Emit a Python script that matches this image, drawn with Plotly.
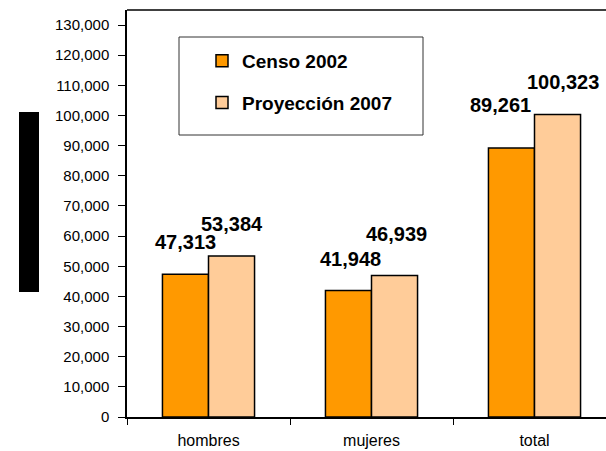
import plotly.graph_objects as go

categories = ["hombres", "mujeres", "total"]
censo_2002 = [47313, 41948, 89261]
proyeccion_2007 = [53384, 46939, 100323]
series_names = ["Censo 2002", "Proyección 2007"]
y_tick_values = list(range(0, 130001, 10000))

# style / layout tuning (pixel offsets of the value labels)
censo_label_shift = [(0, 32), (2, 32), (-11, 43)]
proy_label_shift = [(0, 32), (2, 41), (5, 33)]

FONT = "Liberation Sans, Arial, sans-serif"
ORANGE = "#FF9900"
PEACH = "#FFCC99"

fig = go.Figure()
fig.add_trace(go.Bar(x=categories, y=censo_2002, name=series_names[0],
                     marker=dict(color=ORANGE, line=dict(color="black", width=1.5)),
                     legendgroup="a"))
fig.add_trace(go.Bar(x=categories, y=proyeccion_2007, name=series_names[1],
                     marker=dict(color=PEACH, line=dict(color="black", width=1.5)),
                     legendgroup="b"))

annotations = []
bar_half = 23
for cat, v, (dx, dy) in zip(categories, censo_2002, censo_label_shift):
    annotations.append(dict(x=cat, y=v, text=f"{v:,}", showarrow=False,
                            xshift=-bar_half + dx, yshift=dy, yanchor="middle",
                            font=dict(family=FONT, size=20, color="black", weight="bold")))
for cat, v, (dx, dy) in zip(categories, proyeccion_2007, proy_label_shift):
    annotations.append(dict(x=cat, y=v, text=f"{v:,}", showarrow=False,
                            xshift=bar_half + dx, yshift=dy, yanchor="middle",
                            font=dict(family=FONT, size=20, color="black", weight="bold")))

W, H = 640, 451
L, T, B = 127, 10, 34
VISIBLE_W = 606
pw = W - L
ph = H - T - B

def px_x(p):
    return (p - L) / pw

def px_y(p):
    return (H - B - p) / ph

shapes = [
    # top frame line
    dict(type="line", xref="paper", yref="paper", x0=0, x1=1, y0=1, y1=1,
         line=dict(color="black", width=1.5)),
    # legend frame
    dict(type="rect", xref="paper", yref="paper",
         x0=px_x(179), x1=px_x(423), y0=px_y(135), y1=px_y(37),
         line=dict(color="#333333", width=1), fillcolor="rgba(0,0,0,0)"),
    # black block at the left (axis title area)
    dict(type="rect", xref="paper", yref="paper",
         x0=px_x(19), x1=px_x(39), y0=px_y(292), y1=px_y(112),
         line=dict(width=0), fillcolor="black"),
]

fig.update_layout(
    width=W, height=H,
    margin=dict(l=L, r=0, t=T, b=B),
    paper_bgcolor="white", plot_bgcolor="white",
    barmode="group", bargap=0.435, bargroupgap=0,
    font=dict(family=FONT, color="black"),
    showlegend=True,
    legend=dict(x=px_x(202), y=px_y(42), xanchor="left", yanchor="top",
                bgcolor="rgba(0,0,0,0)", borderwidth=0,
                font=dict(family=FONT, size=19, color="black", weight="bold"),
                tracegroupgap=14, traceorder="grouped"),
    annotations=annotations,
    shapes=shapes,
    xaxis=dict(range=[-0.5, -0.5 + pw / 163], showline=True, linecolor="black", linewidth=1.5,
               ticks="outside", tickson="boundaries", ticklen=6, tickcolor="black",
               ticklabelstandoff=8,
               tickfont=dict(family=FONT, size=16, color="black"), showgrid=False,
               fixedrange=True),
    yaxis=dict(range=[0, 135000], tickvals=y_tick_values, tickformat=",",
               showline=True, linecolor="black", linewidth=1.5,
               ticks="outside", ticklen=7, tickcolor="black",
               ticklabelstandoff=6,
               tickfont=dict(family=FONT, size=15, color="black"),
               showgrid=False, zeroline=False),
)

fig.write_html("out.html", config={"displayModeBar": False},
               post_script="document.body.style.margin='0';document.body.style.overflow='hidden';")
